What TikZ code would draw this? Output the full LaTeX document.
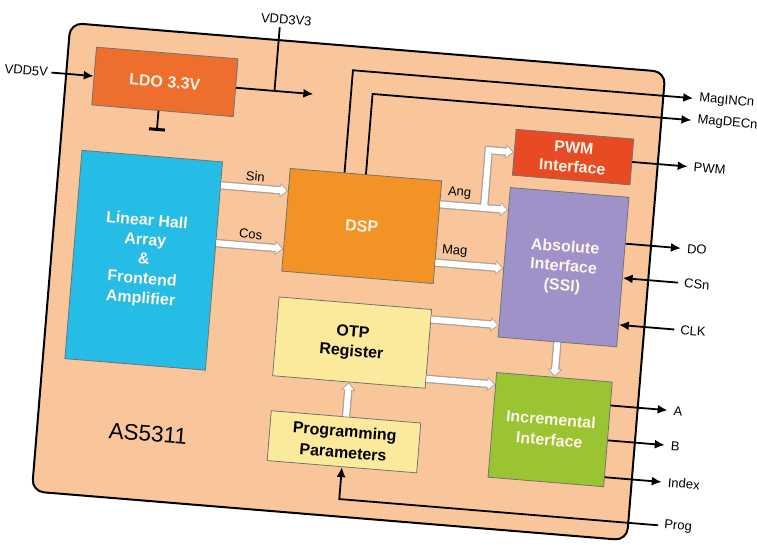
\documentclass[tikz,border=0pt]{standalone}
\usepackage{fontspec}
\setmainfont{Liberation Sans}
\usetikzlibrary{arrows.meta,calc}
\definecolor{chippeach}{HTML}{F8C69A}
\definecolor{ldoorange}{HTML}{EE6E2D}
\definecolor{hallcyan}{HTML}{25BDE6}
\definecolor{dsporange}{HTML}{F39326}
\definecolor{pwmred}{HTML}{E84A24}
\definecolor{ssiviolet}{HTML}{9F92C9}
\definecolor{otpyellow}{HTML}{FBEA9C}
\definecolor{incgreen}{HTML}{9AC431}
\definecolor{boxtext}{HTML}{FFF4E8}
\definecolor{busgrey}{HTML}{A9A29B}

\begin{document}
\begin{tikzpicture}[x=1pt,y=1pt]
\fill[white] (-378,-273) rectangle (379,272);
\useasboundingbox (-378,-273) rectangle (379,272);
\begin{scope}[rotate=-4.7,transform shape,
  box/.style={draw=black!55,line width=0.8pt,align=center,inner sep=2pt,
    font=\fontsize{16}{19.5}\selectfont\bfseries,text=boxtext},
  paler/.style={box,fill=otpyellow,text=black},
  pin/.style={anchor=west,inner xsep=6pt,inner ysep=1pt,font=\fontsize{13}{15}\selectfont},
  lbl/.style={font=\fontsize{13}{15}\selectfont,text=black,above=1pt,inner sep=3pt},
  sig/.style={line width=1.8pt,-{Latex[length=10pt,width=9pt]}},
  wire/.style={line width=1.8pt},
  busedge/.style={draw=busgrey,line width=8.5pt,shorten >=0pt,-{Triangle[length=8pt,width=14pt]}},
  busfill/.style={draw=white,line width=6pt,shorten >=1.3pt,-{Triangle[length=6pt,width=10.5pt]}},
  bus/.style={busfill,preaction={busedge}}]
\draw[rounded corners=12pt,line width=2pt,fill=chippeach] (-327,223) rectangle (270,-247);
\node[font=\fontsize{22.5}{27}\selectfont] (name) at (-216,-180) {AS5311};

\node[box,fill=ldoorange,minimum width=142pt,minimum height=58pt] (ldo) at (-228,172) {LDO 3.3V};
\node[box,fill=hallcyan,minimum width=141pt,minimum height=209pt] (hall) at (-234.5,-7.5) {Linear Hall\\Array\\\&\\Frontend\\Amplifier};
\node[box,fill=dsporange,minimum width=152pt,minimum height=103pt] (dsp) at (-20,44.5) {DSP};
\node[box,fill=pwmred,minimum width=118pt,minimum height=46pt] (pwm) at (185,130.5) {PWM\\Interface};
\node[box,fill=ssiviolet,minimum width=119pt,minimum height=150pt] (ssi) at (184.5,20) {Absolute\\Interface\\(SSI)};
\node[paler,minimum width=153pt,minimum height=79pt] (otp) at (-20,-72.5) {OTP\\Register};
\node[box,fill=incgreen,minimum width=116pt,minimum height=105pt,font=\fontsize{16}{20.5}\selectfont\bfseries] (inc) at (184.5,-143) {Incremental\\Interface};
\node[paler,minimum width=150pt,minimum height=50pt,font=\fontsize{16}{21}\selectfont\bfseries] (prog) at (-20,-172) {Programming\\Parameters};

\node[font=\fontsize{13}{15}\selectfont] (vdd5) at (-367,172) {VDD5V};
\node[font=\fontsize{13}{15}\selectfont] (vdd3) at (-112,244) {VDD3V3};
\node[pin] (magin) at (300,199) {MagINCn};
\node[pin] (magdec) at (300,177) {MagDECn};
\node[pin] (pwmo) at (300,130.5) {PWM};
\node[pin] (pindo) at (300,48.5) {DO};
\node[pin] (pincsn) at (300,14) {CSn};
\node[pin] (pinclk) at (300,-33) {CLK};
\node[pin] (pina) at (300,-114) {A};
\node[pin] (pinb) at (300,-149) {B};
\node[pin] (pinidx) at (300,-186) {Index};
\node[pin] (progin) at (300,-229.5) {Prog};

\coordinate (ldoout) at (-79,172);
\coordinate (tap) at (-118,172);
\coordinate (gnd) at (-232,124);
\draw[sig] (vdd5) -- (ldo);
\draw[sig] (ldo) -- (ldoout);
\draw[wire] (tap) -- (tap |- vdd3.south);
\draw[wire] (gnd |- ldo.south) -- (gnd);
\draw[line width=3pt] ([xshift=-8pt]gnd) -- ([xshift=8pt]gnd);

\coordinate (sin) at ($(dsp.west)+(0,29)$);
\coordinate (cos) at ($(dsp.west)+(0,-29)$);
\coordinate (ang) at ($(dsp.east)+(0,28)$);
\coordinate (mag) at ($(dsp.east)+(0,-30.5)$);
\coordinate (fork) at ($(ang)+(44,0)$);
\coordinate (otpa) at ($(otp.east)+(0,29.5)$);
\coordinate (otpb) at ($(otp.east)+(0,-30)$);
\draw[bus] (hall.east |- sin) -- (sin) node[lbl,midway]{Sin};
\draw[bus] (hall.east |- cos) -- (cos) node[lbl,midway]{Cos};
\draw[busedge] (ang) -- (ssi.west |- ang);
\draw[busedge] (fork) |- (pwm.west);
\draw[busfill] (ang) -- (ssi.west |- ang) node[lbl,pos=0.27]{Ang};
\draw[busfill] (fork) |- (pwm.west);
\draw[bus] (mag) -- (ssi.west |- mag) node[lbl,pos=0.27]{Mag};
\draw[bus] (otpa) -- (ssi.west |- otpa);
\draw[bus] (otpb) -- (inc.west |- otpb);
\draw[bus] (ssi.south) -- (inc.north);
\draw[bus] (prog.north) -- (otp.south);

\draw[sig] ([xshift=-21.5pt]dsp.north) |- (magin.west);
\draw[sig] (dsp.north) |- (magdec.west);
\draw[sig] (pwm.east) -- (pwmo.west);
\draw[sig] (ssi.east |- pindo.west) -- (pindo.west);
\draw[sig] (pincsn.west) -- (ssi.east |- pincsn.west);
\draw[sig] (pinclk.west) -- (ssi.east |- pinclk.west);
\draw[sig] (inc.east |- pina.west) -- (pina.west);
\draw[sig] (inc.east |- pinb.west) -- (pinb.west);
\draw[sig] (inc.east |- pinidx.west) -- (pinidx.west);
\draw[sig] (progin.west) -| (prog.south);
\end{scope}
\end{tikzpicture}
\end{document}
